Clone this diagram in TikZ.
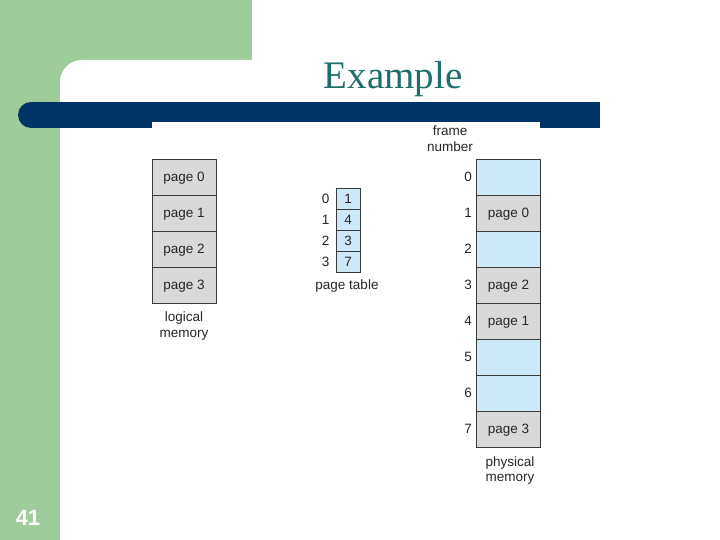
\documentclass[tikz,border=0pt]{standalone}
\usepackage{fontspec}
\setmainfont{Liberation Sans}
\newfontfamily\titlefont{Liberation Serif}
\usetikzlibrary{positioning}
\definecolor{slidegreen}{HTML}{9FCC9B}
\definecolor{barblue}{HTML}{003366}
\definecolor{titleteal}{HTML}{1E6E6A}
\definecolor{cellgray}{HTML}{D9D9D9}
\definecolor{cellblue}{HTML}{CCE9F7}
\definecolor{edgegray}{HTML}{3A3A3A}
\definecolor{labelgray}{HTML}{262626}

\begin{document}
\begin{tikzpicture}[
  x=1pt,y=-1pt,
  page/.style={rectangle,draw=edgegray,line width=0.7pt,fill=cellgray,minimum width=64pt,
    minimum height=36pt,inner sep=0pt,text depth=1pt,text=labelgray,
    font=\fontsize{13.5}{15}\selectfont},
  free/.style={page,fill=cellblue},
  entry/.style={rectangle,draw=edgegray,line width=0.7pt,fill=cellblue,minimum width=24pt,
    minimum height=21pt,inner sep=0pt,text=labelgray,font=\fontsize{13.5}{15}\selectfont},
  idx/.style={inner sep=0pt,text=labelgray,font=\fontsize{13.5}{15}\selectfont},
  caption/.style={align=center,inner sep=0pt,text=labelgray,font=\fontsize{13.5}{15.5}\selectfont}
]
  \useasboundingbox (0,0) rectangle (720,540);
  % slide background
  \fill[slidegreen] (0,0) rectangle (720,540);
  \fill[white] (252,0) rectangle (720,60);
  \fill[white,rounded corners=22] (60,60) rectangle (780,600);
  \fill[barblue] (31,102) rectangle (600,128);
  \fill[barblue] (31,115) circle[radius=13];
  \fill[white] (152,122) rectangle (540,485);
  \node[titleteal,anchor=base,font=\titlefont\fontsize{39}{42}\selectfont] (title) at (393,89) {Example};
  \node[white,font=\bfseries\fontsize{22}{24}\selectfont] (slideno) at (28,518) {41};

  % logical memory
  \node[page] (L0) at (184,177) {page 0};
  \node[page] (L1) at (184,213) {page 1};
  \node[page] (L2) at (184,249) {page 2};
  \node[page] (L3) at (184,285) {page 3};
  \node[caption] (logcap) at (184,326) {logical\\memory};

  % page table
  \node[entry] (P0) at (348,198.5) {1};
  \node[entry] (P1) at (348,219.5) {4};
  \node[entry] (P2) at (348,240.5) {3};
  \node[entry] (P3) at (348,261.5) {7};
  \node[idx,left=6pt of P0] (p0) {0};
  \node[idx,left=6pt of P1] (p1) {1};
  \node[idx,left=6pt of P2] (p2) {2};
  \node[idx,left=6pt of P3] (p3) {3};
  \node[caption] (ptcap) at (347,286.5) {page table};

  % physical memory
  \node[caption] (fncap) at (450,138.5) {frame\\number};
  \node[free] (F0) at (508.5,177) {};
  \node[page] (F1) at (508.5,213) {page 0};
  \node[free] (F2) at (508.5,249) {};
  \node[page] (F3) at (508.5,285) {page 2};
  \node[page] (F4) at (508.5,321) {page 1};
  \node[free] (F5) at (508.5,357) {};
  \node[free] (F6) at (508.5,393) {};
  \node[page] (F7) at (508.5,429) {page 3};
  \node[idx,left=4pt of F0] (f0) {0};
  \node[idx,left=4pt of F1] (f1) {1};
  \node[idx,left=4pt of F2] (f2) {2};
  \node[idx,left=4pt of F3] (f3) {3};
  \node[idx,left=4pt of F4] (f4) {4};
  \node[idx,left=4pt of F5] (f5) {5};
  \node[idx,left=4pt of F6] (f6) {6};
  \node[idx,left=4pt of F7] (f7) {7};
  \node[caption] (physcap) at (510,470.5) {physical\\memory};
\end{tikzpicture}
\end{document}
